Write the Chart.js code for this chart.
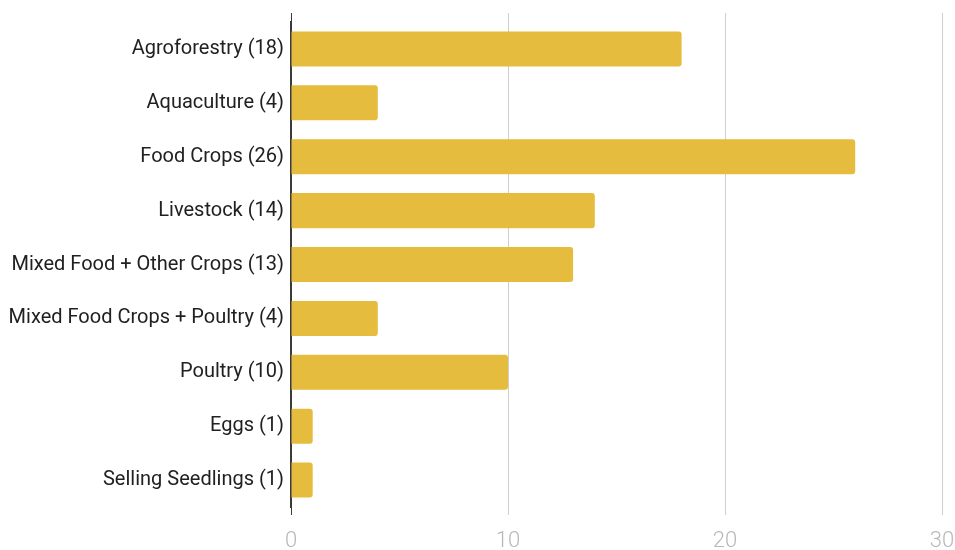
<!DOCTYPE html>
<html>
<head>
<meta charset="utf-8">
<script src="https://cdn.jsdelivr.net/npm/chart.js@4"></script>
<style>
  html, body { margin: 0; padding: 0; background: #fff; }
  #wrap { width: 955px; height: 550px; }
</style>
</head>
<body>
<div id="wrap"><canvas id="cropChart"></canvas></div>
<script>
const categories = ['Agroforestry', 'Aquaculture', 'Food Crops', 'Livestock', 'Mixed Food + Other Crops',
    'Mixed Food Crops + Poultry', 'Poultry', 'Eggs', 'Selling Seedlings'];
const counts = [18, 4, 26, 14, 13, 4, 10, 1, 1];
const xTicks = [0, 10, 20, 30];

const labels = categories.map((c, i) => c + ' (' + counts[i] + ')');
const axisDark = '#3a3a3a';
const gridGrey = '#cfcfcf';
const zeroDark = ctx => (ctx.tick && ctx.tick.value === 0) ? axisDark : gridGrey;

const ctx = document.getElementById('cropChart').getContext('2d');
const cropChart = new Chart(ctx, {
    type: 'bar',
    data: {
        labels: labels,
        datasets: [{
            data: counts,
            backgroundColor: '#e5bc3d',
            borderRadius: 3,
            barPercentage: 0.65,
            categoryPercentage: 1
        }]
    },
    options: {
        indexAxis: 'y',
        responsive: true,
        maintainAspectRatio: false,
        animation: false,
        layout: { padding: { top: 13, right: 0, bottom: 0, left: 0 } },
        plugins: { legend: { display: false }, tooltip: { enabled: false } },
        scales: {
            x: {
                min: xTicks[0],
                max: xTicks[xTicks.length - 1],
                afterBuildTicks: s => { s.ticks = xTicks.map(v => ({ value: v })); },
                afterFit: s => { s.height = 43; s.paddingLeft = 0; s.paddingRight = 13; },
                grid: { color: zeroDark, tickColor: zeroDark, tickLength: 8 },
                border: { display: false },
                ticks: { color: '#b8b8b8', padding: 13, font: { family: 'Roboto', size: 22, weight: 300 } }
            },
            x2: {
                type: 'linear',
                position: 'top',
                min: xTicks[0],
                max: xTicks[xTicks.length - 1],
                afterBuildTicks: s => { s.ticks = xTicks.map(v => ({ value: v })); },
                afterFit: s => { s.height = 9; s.paddingLeft = 0; s.paddingRight = 0; },
                grid: { drawOnChartArea: false, tickColor: zeroDark, tickLength: 9 },
                border: { display: false },
                ticks: { display: false }
            },
            y: {
                afterFit: s => { s.width = 291; s.paddingTop = 0; s.paddingBottom = 0; },
                grid: { display: false, drawTicks: false },
                border: { color: axisDark, width: 1.5 },
                ticks: { color: '#212121', padding: 7, font: { family: 'Roboto', size: 20 } }
            }
        }
    }
});
</script>
</body>
</html>
